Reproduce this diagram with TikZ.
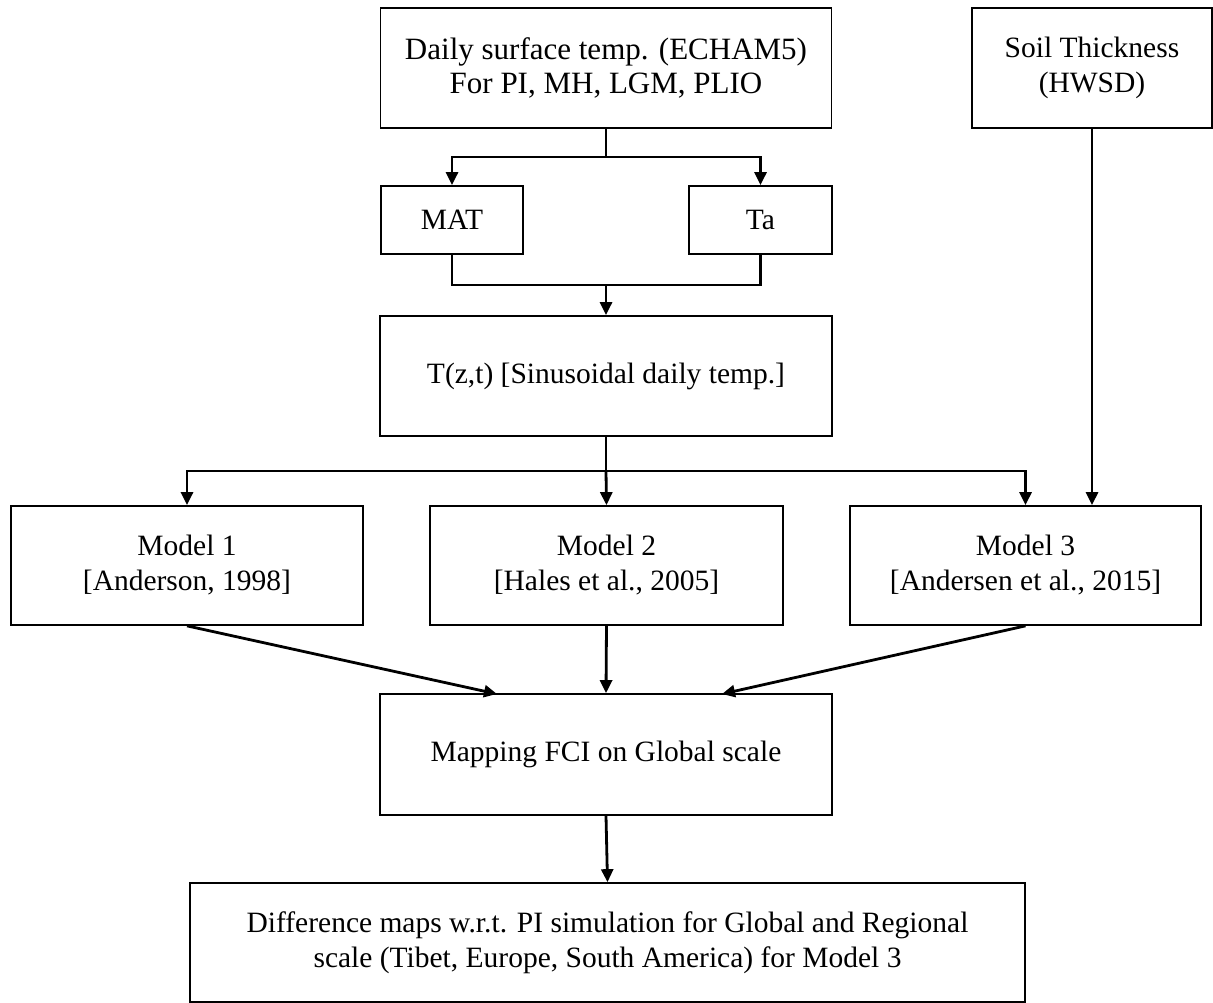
\documentclass[tikz,border=0pt]{standalone}
\usepackage{fontspec}
\setmainfont{Liberation Serif}
\usetikzlibrary{arrows.meta}

\tikzset{
    box/.style={draw, line width=1.7pt, align=center, inner sep=0pt,
        font=\fontsize{29.5}{35}\selectfont},
    flow/.style={line width=2.8pt},
    arr/.style={flow, -{Triangle[length=13pt, width=12pt]}}
}

\begin{document}
\begin{tikzpicture}[x=1pt, y=1pt]
        \useasboundingbox (0,0) rectangle (1213,-1003);

        % Input data
        \node[box, minimum width=451pt, minimum height=120pt, font=\fontsize{31}{34}\selectfont] (daily) at (606,-68) {Daily surface temp. (ECHAM5)\\For PI, MH, LGM, PLIO};
        \node[box, minimum width=240pt, minimum height=120pt] (soil) at (1092,-68) {Soil Thickness\\(HWSD)};

        % Derived fields
        \node[box, minimum width=142pt, minimum height=68pt, text height=20pt, text depth=0pt] (mat) at (452,-220) {MAT};
        \node[box, minimum width=143pt, minimum height=68pt, text height=20pt, text depth=0pt] (ta) at (760.5,-220) {Ta};
        \node[box, minimum width=452pt, minimum height=120pt] (tzt) at (606,-376) {T(z,t) [Sinusoidal daily temp.]};

        % Models
        \node[box, minimum width=352pt, minimum height=119pt] (model1) at (187,-565.5) {Model 1\\{[}Anderson, 1998{]}};
        \node[box, minimum width=353pt, minimum height=119pt] (model2) at (606.5,-565.5) {Model 2\\{[}Hales et al., 2005{]}};
        \node[box, minimum width=351pt, minimum height=119pt] (model3) at (1025.5,-565.5) {Model 3\\{[}Andersen et al., 2015{]}};

        % Output
        \node[box, minimum width=452pt, minimum height=121pt] (mapping) at (606,-754.5) {Mapping FCI on Global scale};
        \node[box, minimum width=835pt, minimum height=119pt] (diffmaps) at (607.5,-942.5) {Difference maps w.r.t. PI simulation for Global and Regional\\scale (Tibet, Europe, South America) for Model 3};

        % Split and join points
        \coordinate (split1) at (606,-157);
        \coordinate (join1) at (606,-285);
        \coordinate (split2) at (606,-471);
        \coordinate (in1) at (497,-694);
        \coordinate (in3) at (722,-694);

        % Daily temp. to MAT and Ta
        \draw[flow] (daily.south) -- (split1);
        \draw[arr] (split1) -| (mat.north);
        \draw[arr] (split1) -| (ta.north);

        % MAT and Ta to T(z,t)
        \draw[flow] (mat.south) |- (join1) -| (ta.south);
        \draw[arr] (join1) -- (tzt.north);

        % T(z,t) to models
        \draw[flow] (tzt.south) -- (split2);
        \draw[arr] (split2) -| (model1.north);
        \draw[arr] (split2) -- (model2.north);
        \draw[arr] (split2) -| (model3.north);
        \draw[arr] (soil.south) -- (soil.south |- model3.north);

        % Models to mapping
        \draw[arr] (model1.south) -- (in1);
        \draw[arr] (model2.south) -- (mapping.north);
        \draw[arr] (model3.south) -- (in3);

        % Mapping to difference maps
        \draw[arr] (mapping.south) -- (diffmaps.north);

\end{tikzpicture}
\end{document}
